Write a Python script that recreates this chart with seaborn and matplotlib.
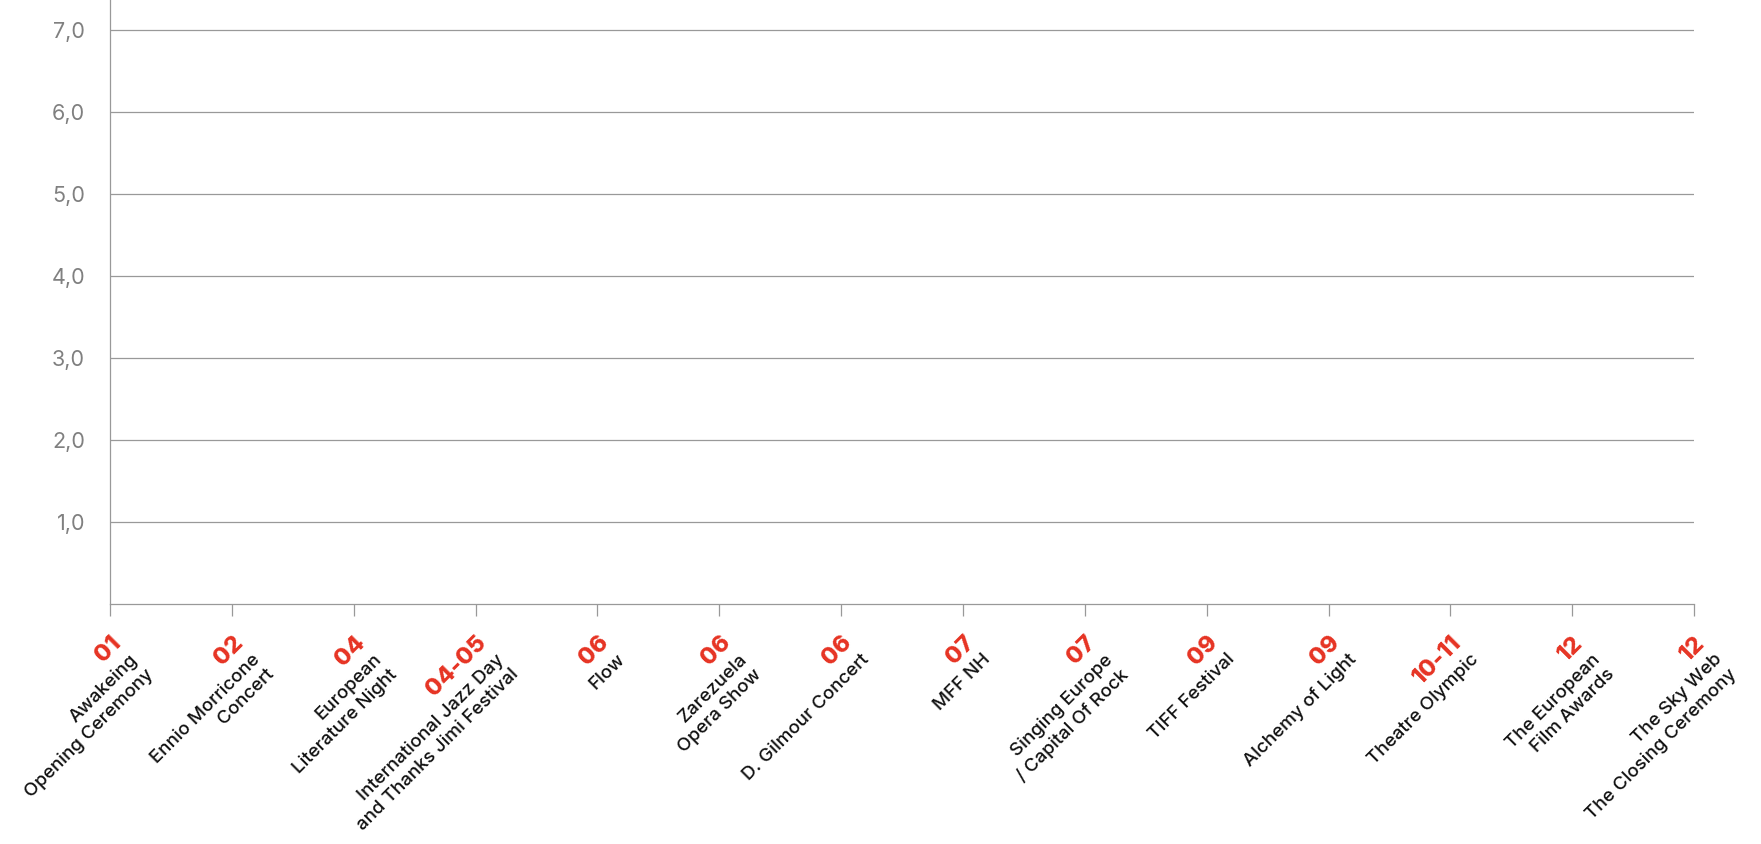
import numpy as np
import pandas as pd
import matplotlib
matplotlib.use("Agg")
import matplotlib.pyplot as plt
import seaborn as sns

# --- Data ---
months = ["01", "02", "04", "04-05", "06", "06", "06",
          "07", "07", "09", "09", "10-11", "12", "12"]
events = [
    "Awakeing\nOpening Ceremony",
    "Ennio Morricone\nConcert",
    "European\nLiterature Night",
    "International Jazz Day\nand Thanks Jimi Festival",
    "Flow",
    "Zarezuela\nOpera Show",
    "D. Gilmour Concert",
    "MFF NH",
    "Singing Europe\n/ Capital Of Rock",
    "TIFF Festival",
    "Alchemy of Light",
    "Theatre Olympic",
    "The European\nFilm Awards",
    "The Sky Web\nThe Closing Ceremony",
]
y_ticks = [1, 2, 3, 4, 5, 6, 7]
y_tick_labels = ["1,0", "2,0", "3,0", "4,0", "5,0", "6,0", "7,0"]

# --- Style ---
sns.set_style("white")
plt.rcParams["font.family"] = ["Inter", "DejaVu Sans"]

RED = "#E63323"
GRID = "#999999"
TICK_GREY = "#808080"

fig = plt.figure(figsize=(17.61, 8.44), dpi=100)
ax = fig.add_axes([0.0625, 0.2844, 0.8995, 0.7156])

# empty timeline frame (no values plotted yet)
df = pd.DataFrame({"pos": np.arange(len(months)), "value": [np.nan] * len(months)})
sns.lineplot(data=df, x="pos", y="value", ax=ax)

ax.set_xlim(0, len(months) - 1)
ax.set_ylim(0, 7.37)
ax.set_xlabel("")
ax.set_ylabel("")

ax.set_yticks(y_ticks)
ax.set_yticklabels(y_tick_labels)
ax.set_xticks(range(len(months)))
ax.set_xticklabels([""] * len(months))

ax.grid(axis="y", color=GRID, linewidth=0.9)
ax.grid(axis="x", visible=False)
ax.tick_params(axis="y", length=0, pad=18, labelsize=15.5, labelcolor=TICK_GREY)
ax.tick_params(axis="x", length=8.6, width=0.9, color=GRID, bottom=True)

sns.despine(ax=ax, top=True, right=True)
for side in ["left", "bottom"]:
    ax.spines[side].set_color(GRID)
    ax.spines[side].set_linewidth(0.9)

# --- Two-colour rotated labels: red month over black event name ---
perp = np.array([0.7071, -0.7071])
red_off = np.array([0.0, -20.0])
name_off = red_off + 19.5 * perp
for i, (m, ev) in enumerate(zip(months, events)):
    ax.annotate(m, xy=(i, 0), xycoords=("data", "axes fraction"),
                xytext=tuple(red_off), textcoords="offset points",
                rotation=45, rotation_mode="anchor", ha="right", va="top",
                color=RED, fontsize=17, fontweight="heavy", annotation_clip=False)
    ax.annotate(ev, xy=(i, 0), xycoords=("data", "axes fraction"),
                xytext=tuple(name_off), textcoords="offset points",
                rotation=45, rotation_mode="anchor", ha="right", va="top",
                color="#111111", fontsize=13.5, fontweight="medium", linespacing=1.3,
                multialignment="right", annotation_clip=False)

plt.savefig("out.png", dpi=100)
